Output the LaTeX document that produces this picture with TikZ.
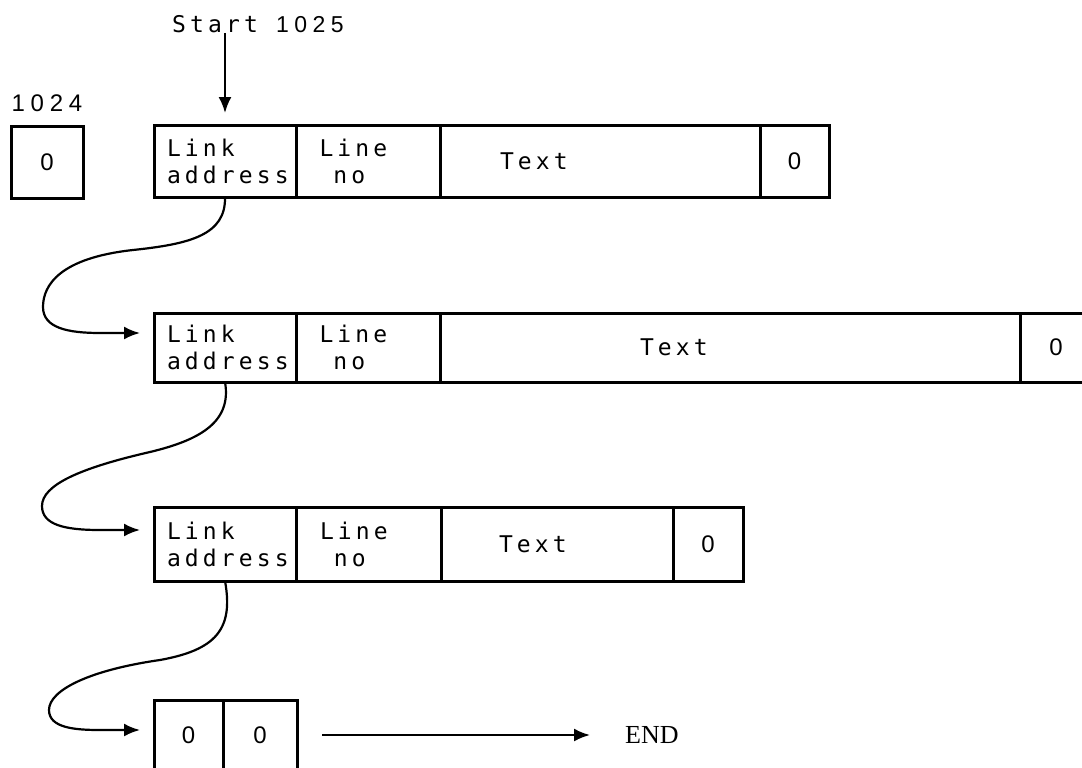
\documentclass[tikz,border=0pt]{standalone}
\usepackage{fontspec}
\usetikzlibrary{arrows.meta,positioning}
\newfontfamily\cellfont{DejaVu Sans Mono}[LetterSpace=18]
\newfontfamily\digitfont{Liberation Sans}[LetterSpace=24]
\newfontfamily\endfont{Liberation Serif}

\begin{document}
\begin{tikzpicture}[x=1pt,y=-1pt,
  txt/.style={font=\fontsize{23}{27}\cellfont, inner sep=0pt},
  num/.style={font=\fontsize{24}{27}\digitfont, inner sep=0pt},
  cell/.style={txt, draw, line width=3pt, outer sep=0pt},
  linkcell/.style={cell, minimum width=142pt, text width=116pt, align=left},
  linecell/.style={cell, minimum width=144pt, text width=97pt, align=left},
  zerocell/.style={cell, num, minimum width=70pt},
  link/.style={line width=2.2pt, -{Latex[length=16pt,width=13pt]}, shorten >=14pt},
  arr/.style={line width=2.2pt, -{Latex[length=16pt,width=13pt]}}]
  \clip (0,0) rectangle (1082,768);

  %# START LABEL AND BOX 1024
  \node[txt] (st) at (258,24) {Start {\digitfont 1025}};
  \node[zerocell, minimum width=72pt, minimum height=72pt, anchor=north west] (z0) at (11,126) {0};
  \node[num, above=14pt of z0] (a0) {1024};

  %# ROW 1
  \node[linkcell, minimum height=72pt, anchor=north west] (l1) at (154,125) {Link\\address};
  \node[linecell, minimum height=72pt, right=0pt of l1] (n1) {Line\\\phantom{L}no};
  \node[cell, minimum height=72pt, minimum width=320pt, text width=200pt, align=left, right=0pt of n1] (t1) {Text};
  \node[zerocell, minimum height=72pt, minimum width=69pt, right=0pt of t1] (z1) {0};

  %# ROW 2
  \node[linkcell, minimum height=69pt, anchor=north west] (l2) at (154,313) {Link\\address};
  \node[linecell, minimum height=69pt, right=0pt of l2] (n2) {Line\\\phantom{L}no};
  \node[cell, minimum height=69pt, minimum width=580pt, text width=180pt, align=left, right=0pt of n2] (t2) {Text};
  \node[zerocell, minimum height=69pt, minimum width=72pt, right=0pt of t2] (z2) {0};

  %# ROW 3
  \node[linkcell, minimum height=74pt, anchor=north west] (l3) at (154,507) {Link\\address};
  \node[linecell, minimum height=74pt, minimum width=145pt, right=0pt of l3] (n3) {Line\\\phantom{L}no};
  \node[cell, minimum height=74pt, minimum width=232pt, text width=116pt, align=left, right=0pt of n3] (t3) {Text};
  \node[zerocell, minimum height=74pt, right=0pt of t3] (z3) {0};

  %# ROW 4
  \node[zerocell, minimum height=70pt, minimum width=69pt, anchor=north west] (b1) at (154,700) {0};
  \node[zerocell, minimum height=70pt, minimum width=74pt, right=0pt of b1] (b2) {0};
  \node[font=\fontsize{26}{30}\endfont, inner sep=0pt, right=328pt of b2] (e) {END};

  %# ARROWS
  \draw[arr, shorten >=12pt] (st.south -| l1.north) -- (l1.north);
  \draw[link] (l1.south) .. controls (226,235) and (190,244) .. (133,250)
    .. controls (60,258) and (43,285) .. (43,307)
    .. controls (43,328) and (68,333) .. (100,333) -- ([yshift=14.5pt]l2.west);
  \draw[link] (l2.south) .. controls (232,422) and (200,440) .. (150,452)
    .. controls (80,468) and (42,485) .. (42,506)
    .. controls (42,525) and (65,530) .. (100,530) -- ([yshift=14pt]l3.west);
  \draw[link] (l3.south) .. controls (234,630) and (215,650) .. (160,660)
    .. controls (90,670) and (49,690) .. (49,710)
    .. controls (49,728) and (75,730) .. (100,730) -- ([yshift=5pt]b1.west);
  \draw[arr] ([xshift=25pt]b2.east) -- ([xshift=-35pt]e.west);
\end{tikzpicture}
\end{document}
